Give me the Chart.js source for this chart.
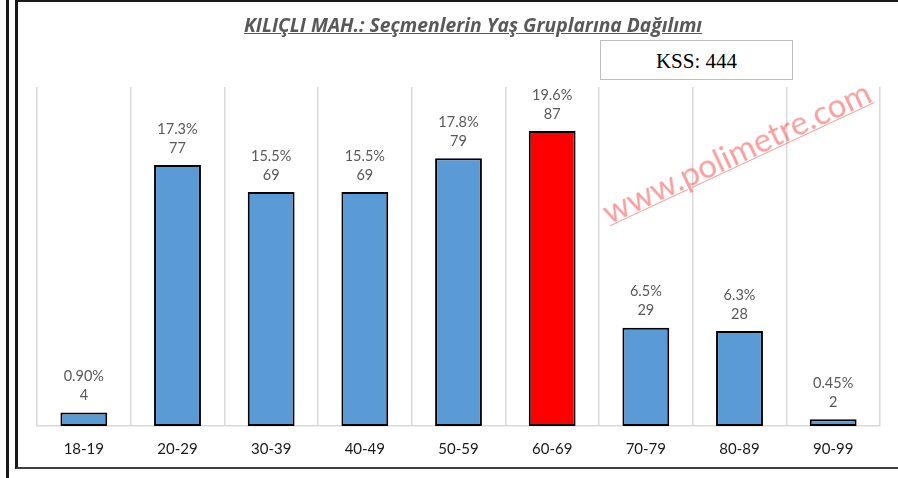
<!DOCTYPE html>
<html>
<head>
<meta charset="utf-8">
<script src="https://cdn.jsdelivr.net/npm/chart.js@4"></script>
<style>
  html, body { margin: 0; padding: 0; background: #fff; }
  #wrap { position: relative; width: 898px; height: 478px; overflow: hidden; }
  #lineOuter { position: absolute; left: 6px; top: 0; width: 3px; height: 478px; background: #1a1a1a; }
  #frame { position: absolute; left: 15px; top: 0; width: 900px; height: 465px;
           border-left: 3px solid #1a1a1a; border-top: 2px solid #1a1a1a; border-bottom: 2px solid #404040; }
  #chartBox { position: absolute; left: 0; top: 0; width: 898px; height: 478px; }
  #title { position: absolute; left: 0; width: 946px; top: 11px; text-align: center;
           font: italic bold 19.3px "Open Sans", sans-serif; color: #595959; text-decoration: underline; }
  #kss { position: absolute; left: 600px; top: 40px; width: 191px; height: 38px;
         border: 1.5px solid #BFBFBF; text-align: center;
         font: 21px "Liberation Serif", serif; line-height: 40px; color: #000; background: #fff; }
  #watermark { position: absolute; left: 736px; top: 151px; transform: translate(-50%, -50%) rotate(-25deg);
               font: 33px Lato, sans-serif; color: rgba(240, 80, 80, 0.55); text-decoration: underline;
               text-decoration-thickness: 1px; white-space: nowrap; }
</style>
</head>
<body>
<div id="wrap">
  <div id="lineOuter"></div>
  <div id="frame"></div>
  <div id="chartBox"><canvas id="ageChart" width="898" height="478"></canvas></div>
  <div id="title">KILIÇLI MAH.: Seçmenlerin Yaş Gruplarına Dağılımı</div>
  <div id="kss">KSS: 444</div>
  <div id="watermark">www.polimetre.com</div>
</div>
<script>
// ─── Veri ────────────────────────────────────────────────────────────────────
const AGE_GROUPS = ['18-19', '20-29', '30-39', '40-49', '50-59', '60-69', '70-79', '80-89', '90-99'];
const VOTERS     = [4, 77, 69, 69, 79, 87, 29, 28, 2];
const PERCENTS   = ['0.90%', '17.3%', '15.5%', '15.5%', '17.8%', '19.6%', '6.5%', '6.3%', '0.45%'];
const HIGHLIGHT  = '60-69';

const COLORS = {
  bar:       '#5B9BD5',
  barMax:    '#FF0000',
  barBorder: '#000000',
  grid:      '#D9D9D9',
  label:     '#595959',
  tick:      '#1a1a1a',
};

// Etykiety nad słupkami: procent + liczba
const barLabels = {
  id: 'barLabels',
  afterDatasetsDraw(chart) {
    const { ctx } = chart;
    const meta = chart.getDatasetMeta(0);
    ctx.save();
    ctx.font = '14.5px Lato, sans-serif';
    ctx.fillStyle = COLORS.label;
    ctx.textAlign = 'center';
    ctx.textBaseline = 'middle';
    meta.data.forEach((bar, i) => {
      ctx.fillText(PERCENTS[i], bar.x, bar.y - 36);
      ctx.fillText(String(VOTERS[i]), bar.x, bar.y - 17);
    });
    ctx.restore();
  }
};

new Chart(document.getElementById('ageChart'), {
  type: 'bar',
  data: {
    labels: AGE_GROUPS,
    datasets: [{
      data: VOTERS,
      backgroundColor: AGE_GROUPS.map(g => g === HIGHLIGHT ? COLORS.barMax : COLORS.bar),
      borderColor: COLORS.barBorder,
      borderWidth: 2,
      borderSkipped: false,
      categoryPercentage: 1,
      barPercentage: 0.5,
    }]
  },
  options: {
    responsive: false,
    animation: false,
    layout: { padding: { left: 37, right: 18, top: 87, bottom: 6 } },
    plugins: { legend: { display: false }, tooltip: { enabled: false } },
    scales: {
      x: {
        grid: { color: COLORS.grid, lineWidth: 1.5, drawTicks: false },
        border: { color: COLORS.grid, width: 1.5 },
        ticks: { color: COLORS.tick, padding: 14, font: { family: 'Lato, sans-serif', size: 15 } }
      },
      y: { display: false, min: 0, max: 100 }
    }
  },
  plugins: [barLabels]
});
</script>
</body>
</html>
